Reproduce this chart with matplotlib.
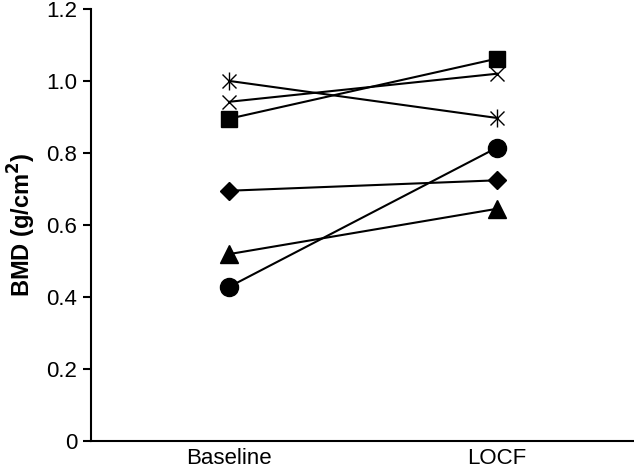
import matplotlib
matplotlib.use('Agg')
import matplotlib.pyplot as plt

plt.rcParams['font.family'] = ['Liberation Sans', 'DejaVu Sans']

timepoints = ['Baseline', 'LOCF']
square = [0.895, 1.062]
cross = [0.942, 1.020]
asterisk = [1.000, 0.897]
diamond = [0.695, 0.724]
triangle = [0.519, 0.645]
circle = [0.428, 0.815]

x = [0, 1]

fig = plt.figure(figsize=(6.34, 4.68), dpi=100)
ax = fig.add_axes([0.1435, 0.0577, 0.8565, 0.9233])

lw = 1.5
ax.plot(x, square, color='black', lw=lw, marker='s', ms=12, zorder=3)
ax.plot(x, cross, color='black', lw=lw, marker='x', ms=10, mew=1.0, zorder=3)
ax.plot(x, asterisk, color='black', lw=lw, zorder=3)
ax.plot(x, asterisk, ls='none', color='black', marker='x', ms=10, mew=1.0, zorder=3)
ax.plot(x, asterisk, ls='none', color='black', marker='|', ms=13, mew=1.0, zorder=3)
ax.plot(x, diamond, color='black', lw=lw, marker='D', ms=9.5, zorder=3)
ax.plot(x, triangle, color='black', lw=lw, marker='^', ms=13, zorder=3)
ax.plot(x, circle, color='black', lw=lw, marker='o', ms=13, zorder=3)

ax.set_xlim(-0.515, 1.51)
ax.set_ylim(0, 1.2)
ax.set_xticks(x)
ax.set_xticklabels(timepoints)
ax.set_yticks([0, 0.2, 0.4, 0.6, 0.8, 1.0, 1.2])
ax.set_yticklabels(['0', '0.2', '0.4', '0.6', '0.8', '1.0', '1.2'])
ax.tick_params(axis='x', length=0, labelsize=16, pad=5)
ax.tick_params(axis='y', length=6, width=1.5, labelsize=16, pad=4)

for side in ['top', 'right']:
    ax.spines[side].set_visible(False)
for side in ['left', 'bottom']:
    ax.spines[side].set_linewidth(1.5)

ax.set_ylabel('BMD (g/cm$^\\mathbf{2}$)', fontsize=17, fontweight='bold', labelpad=6)

fig.savefig('out.png', dpi=100)
